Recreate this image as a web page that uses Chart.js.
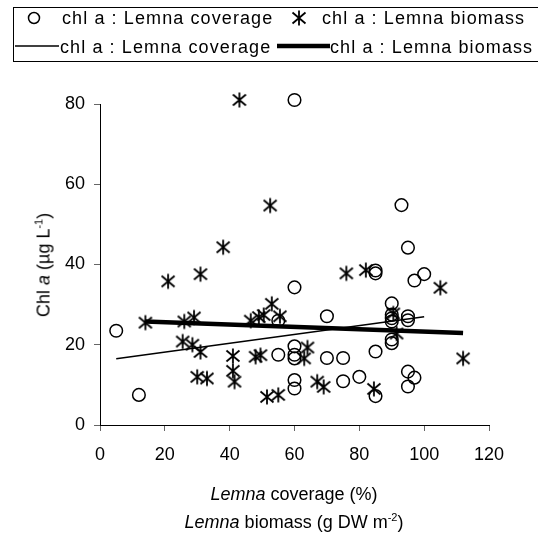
<!DOCTYPE html>
<html>
<head>
<meta charset="utf-8">
<script src="https://cdn.jsdelivr.net/npm/chart.js@4.4.1/dist/chart.umd.min.js"></script>
<style>
  body { margin: 0; background: #fff; }
  #wrap { position: relative; width: 538px; height: 537px; overflow: hidden; font-family: "Liberation Sans", Arial, sans-serif; color: #000; }
  #chart { position: absolute; left: 0; top: 0; }
  #legend { position: absolute; left: 13px; top: 7px; width: 560px; height: 55px; border: 1px solid #000; box-sizing: border-box; }
  .txt { position: absolute; font-size: 18px; line-height: 20px; white-space: nowrap; letter-spacing: 1.1px; }
  .mk { position: absolute; }
  .ytitle { position: absolute; left: 44px; top: 265px; font-size: 18px; white-space: nowrap; transform: translate(-50%, -50%) rotate(-90deg); }
  .xtitle { position: absolute; left: 294px; font-size: 18px; white-space: nowrap; transform: translate(-50%, -50%); }
  sup { font-size: 11px; vertical-align: 7px; line-height: 0; }
</style>
</head>
<body>
<div id="wrap">
  <canvas id="chart" width="538" height="537"></canvas>
  <div id="legend">
    <svg class="mk" style="left:12px;top:2px" width="16" height="16"><circle cx="8" cy="8" r="5.5" fill="none" stroke="#000" stroke-width="1.5"/></svg>
    <div class="txt" style="left:48px;top:0px">chl a : Lemna coverage</div>
    <svg class="mk" style="left:276px;top:1px" width="18" height="18"><path d="M9 1.5 V16.5 M2.5 3.5 L15.5 14.5 M2.5 14.5 L15.5 3.5" stroke="#000" stroke-width="1.8" fill="none"/></svg>
    <div class="txt" style="left:308px;top:0px">chl a : Lemna biomass</div>
    <svg class="mk" style="left:1px;top:30px" width="44" height="16"><line x1="0" y1="8" x2="44" y2="8" stroke="#000" stroke-width="1.5"/></svg>
    <div class="txt" style="left:46px;top:29px">chl a : Lemna coverage</div>
    <svg class="mk" style="left:263px;top:30px" width="53" height="16"><line x1="0" y1="8" x2="53" y2="8" stroke="#000" stroke-width="4.5"/></svg>
    <div class="txt" style="left:316px;top:29px">chl a : Lemna biomass</div>
  </div>
  <div class="ytitle">Chl <i>a</i> (µg L<sup>-1</sup>)</div>
  <div class="xtitle" style="top:494px"><i>Lemna</i> coverage (%)</div>
  <div class="xtitle" style="top:522px"><i>Lemna</i> biomass (g DW m<sup>-2</sup>)</div>
</div>
<script>
// chl a vs Lemna coverage (%)
const coverageX = [5, 12, 55, 55, 60, 60, 60, 60, 60, 60, 60, 70, 70, 75, 75, 80, 85, 85, 85, 85,
  90, 90, 90, 90, 90, 90, 93, 95, 95, 95, 95, 95, 97, 97, 100];
const coverageY = [23.5, 7.5, 26, 17.5, 81, 34.3, 19.6, 17.5, 16.6, 11.2, 9.1, 27.1, 16.7, 16.7, 10.9, 12, 38.5, 37.8, 18.3, 7.2,
  30.3, 27.5, 26.6, 25.8, 21.3, 20.4, 54.8, 44.2, 27.1, 26.1, 13.3, 9.6, 36, 11.8, 37.6];

// chl a vs Lemna biomass (g DW m-2)
const biomassX = [14, 21, 26, 29, 25.5, 28.5, 31, 30, 33, 31, 38, 43, 41, 41, 41.5, 46.5, 49, 50.5, 53, 55.5,
  48, 49.5, 51.5, 55, 52.5, 64, 63, 67, 69, 76, 82, 90.5, 91.5, 84.5, 105, 112];
const biomassY = [25.5, 35.8, 25.8, 26.8, 20.8, 20, 18.2, 12, 11.6, 37.6, 44.3, 81, 17.2, 13.5, 10.8, 26, 26.9, 27.4, 30.2, 27.1,
  17, 17.4, 7, 7.5, 54.7, 19.3, 16.6, 10.8, 9.5, 37.8, 38.6, 27.8, 22.8, 9, 34.2, 16.6];

// linear fits (end points)
const coverageFitX = [5, 100];
const coverageFitY = [16.5, 27];
const biomassFitX = [14, 112];
const biomassFitY = [25.8, 22.9];

const xTicks = [0, 20, 40, 60, 80, 100, 120];
const yTicks = [0, 20, 40, 60, 80];

function pairs(xs, ys) {
  return xs.map((x, i) => ({ x: x, y: ys[i] }));
}

// 6-armed asterisk marker
const star = document.createElement("canvas");
star.width = 18;
star.height = 18;
const sc = star.getContext("2d");
sc.strokeStyle = "#000";
sc.lineWidth = 1.8;
sc.beginPath();
sc.moveTo(9, 1.5); sc.lineTo(9, 16.5);
sc.moveTo(2.5, 3.5); sc.lineTo(15.5, 14.5);
sc.moveTo(2.5, 14.5); sc.lineTo(15.5, 3.5);
sc.stroke();

const font = { size: 18, family: "'Liberation Sans', Arial, sans-serif" };

new Chart(document.getElementById("chart"), {
  type: "scatter",
  data: {
    datasets: [
      {
        label: "chl a : Lemna biomass fit",
        data: pairs(biomassFitX, biomassFitY),
        showLine: true,
        borderColor: "#000",
        borderWidth: 4.5,
        pointRadius: 0,
      },
      {
        label: "chl a : Lemna coverage fit",
        data: pairs(coverageFitX, coverageFitY),
        showLine: true,
        borderColor: "#000",
        borderWidth: 1.5,
        pointRadius: 0,
      },
      {
        label: "chl a : Lemna coverage",
        data: pairs(coverageX, coverageY),
        pointStyle: "circle",
        pointRadius: 6.3,
        borderColor: "#000",
        borderWidth: 1.5,
        backgroundColor: "rgba(0,0,0,0)",
        clip: false,
      },
      {
        label: "chl a : Lemna biomass",
        data: pairs(biomassX, biomassY),
        pointStyle: star,
        pointRadius: 9,
        clip: false,
      },
    ],
  },
  options: {
    responsive: false,
    animation: false,
    layout: { padding: { left: 0, right: 49, top: 104, bottom: 0 } },
    plugins: { legend: { display: false }, tooltip: { enabled: false } },
    scales: {
      x: {
        type: "linear",
        min: 0,
        max: 120,
        afterBuildTicks: (s) => { s.ticks = xTicks.map((v) => ({ value: v })); },
        ticks: { color: "#000", font: font, padding: 13, maxRotation: 0 },
        grid: { drawOnChartArea: false, drawTicks: true, tickLength: 6, color: "#666" },
        border: { color: "#000", width: 1 },
        afterFit: (s) => { s.height = 537 - 425; },
      },
      y: {
        type: "linear",
        min: 0,
        max: 80,
        afterBuildTicks: (s) => { s.ticks = yTicks.map((v) => ({ value: v })); },
        ticks: { color: "#000", font: font, padding: 9 },
        grid: { drawOnChartArea: false, drawTicks: true, tickLength: 6, color: "#666" },
        border: { color: "#000", width: 1 },
        afterFit: (s) => { s.width = 100; },
      },
    },
  },
});
</script>
</body>
</html>
